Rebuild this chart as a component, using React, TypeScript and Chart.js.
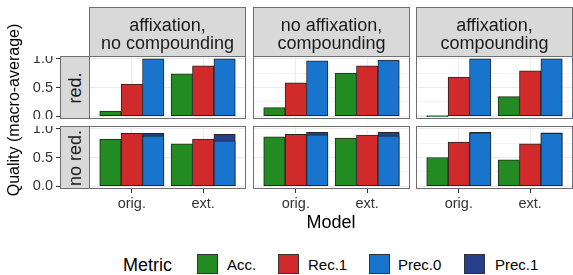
import React, { useEffect, useRef } from 'react';
import { Chart, registerables } from 'chart.js';

Chart.register(...registerables);

// ---------- data ----------
const FACETS = [
  ['affixation,', 'no compounding'],
  ['no affixation,', 'compounding'],
  ['affixation,', 'compounding'],
];
const ROW_LABELS = ['red.', 'no red.'];
const MODELS = ['orig.', 'ext.'];
const METRICS = ['Acc.', 'Rec.1', 'Prec.0', 'Prec.1'];
const Y_TICKS = [0, 0.25, 0.5, 0.75, 1];

// values indexed [row][facet][model]
const ACC = [
  [[0.09, 0.74], [0.15, 0.75], [0.0, 0.34]],
  [[0.82, 0.74], [0.86, 0.84], [0.5, 0.46]],
];
const REC1 = [
  [[0.56, 0.88], [0.58, 0.88], [0.68, 0.79]],
  [[0.92, 0.82], [0.905, 0.89], [0.77, 0.74]],
];
const PREC0 = [
  [[1.0, 1.0], [0.965, 0.98], [1.0, 1.0]],
  [[0.88, 0.79], [0.895, 0.877], [0.93, 0.92]],
];
const PREC1 = [
  [[null, null], [null, null], [null, null]],
  [[0.92, 0.905], [0.94, 0.94], [0.94, 0.93]],
];
const SERIES = [ACC, REC1, PREC0, PREC1];

// ---------- styles / layout ----------
const COLORS = ['#228B22', '#D02A2A', '#1874CD', '#27408B'];
const SLOT = [-1, 0, 1, 1];
const DODGE = 0.3;
const FONT = "'Liberation Sans', Arial, Helvetica, sans-serif";
const PANEL_LEFT = [89, 253, 416];
const PANEL_W = 157;
const PANEL_TOP = [56, 126];
const PANEL_H = 63;
const STRIP_TOP = 7;
const ROW_STRIP_LEFT = 60;
const Y_AXIS_W = 89;
const X_AXIS_H = 28;
const BORDER = '#6e6e6e';
const GRID = '#EBEBEB';
const TICK_TEXT = '#333333';

const isMajor = (v: number) => Math.abs(v * 2 - Math.round(v * 2)) < 1e-6;

const zeroPad = (s: any) => {
  s.paddingLeft = 0;
  s.paddingRight = 0;
  s.paddingTop = 0;
  s.paddingBottom = 0;
};

const panelBorder = {
  id: 'panelBorder',
  afterDraw(chart: any) {
    const { ctx, chartArea: a } = chart;
    ctx.save();
    ctx.strokeStyle = BORDER;
    ctx.lineWidth = 1;
    ctx.strokeRect(a.left + 0.5, a.top + 0.5, a.right - a.left - 1, a.bottom - a.top - 1);
    ctx.restore();
  },
};

function Panel({ row, col }: { row: number; col: number }) {
  const ref = useRef<HTMLCanvasElement | null>(null);
  const hasY = col === 0;
  const hasX = row === ROW_LABELS.length - 1;
  const left = hasY ? PANEL_LEFT[0] - Y_AXIS_W : PANEL_LEFT[col];
  const width = PANEL_W + (hasY ? Y_AXIS_W : 0);
  const top = PANEL_TOP[row];
  const height = PANEL_H + (hasX ? X_AXIS_H : 0);

  useEffect(() => {
    if (!ref.current) return;
    const datasets = METRICS.map((m, k) => ({
      label: m,
      data: MODELS.map((_, i) => ({ x: i + 1 + SLOT[k] * DODGE, y: SERIES[k][row][col][i] })),
      backgroundColor: COLORS[k],
      borderColor: '#262626',
      borderWidth: 1,
      borderSkipped: false,
      grouped: false,
      barPercentage: 1,
      categoryPercentage: 1,
      minBarLength: 1,
    }));
    const chart = new Chart(ref.current, {
      type: 'bar',
      data: { datasets } as any,
      options: {
        animation: false,
        responsive: false,
        maintainAspectRatio: false,
        layout: { padding: 0 },
        plugins: { legend: { display: false }, tooltip: { enabled: false } },
        scales: {
          x: {
            type: 'linear',
            offset: false,
            min: 0.4,
            max: 0.6 + MODELS.length,
            afterBuildTicks: (s: any) => {
              s.ticks = MODELS.map((_, i) => ({ value: i + 1 }));
            },
            afterFit: (s: any) => {
              s.height = hasX ? X_AXIS_H : 0;
              zeroPad(s);
            },
            ticks: {
              display: hasX,
              autoSkip: false,
              maxRotation: 0,
              padding: 2,
              color: TICK_TEXT,
              font: { family: FONT, size: 14.5 },
              callback: (v: any) => MODELS[Math.round(Number(v)) - 1] ?? '',
            },
            grid: {
              offset: false,
              color: GRID,
              lineWidth: 1,
              drawTicks: hasX,
              tickLength: 4,
              tickColor: '#333333',
              tickWidth: 1,
            },
            border: { display: false },
          },
          y: {
            type: 'linear',
            min: -0.05,
            max: 1.05,
            afterBuildTicks: (s: any) => {
              s.ticks = Y_TICKS.map((v) => ({ value: v }));
            },
            afterFit: (s: any) => {
              s.width = hasY ? Y_AXIS_W : 0;
              zeroPad(s);
            },
            ticks: {
              display: hasY,
              padding: 3,
              color: TICK_TEXT,
              font: { family: FONT, size: 14.5 },
              callback: (v: any) => (isMajor(Number(v)) ? Number(v).toFixed(1) : ''),
            },
            grid: {
              color: (c: any) => (c.tick && isMajor(c.tick.value) ? GRID : '#F4F4F4'),
              lineWidth: 1,
              drawTicks: hasY,
              tickLength: Y_AXIS_W - ROW_STRIP_LEFT + 4,
              tickColor: (c: any) => (c.tick && isMajor(c.tick.value) ? '#333333' : 'rgba(0,0,0,0)'),
              tickWidth: 1,
            },
            border: { display: false },
          },
        },
      } as any,
      plugins: [panelBorder],
    });
    return () => chart.destroy();
  }, [row, col]);

  return (
    <canvas
      ref={ref}
      width={width}
      height={height}
      style={{ position: 'absolute', left, top, width, height, display: 'block' }}
    />
  );
}

const stripStyle: React.CSSProperties = {
  position: 'absolute',
  background: '#D9D9D9',
  border: `1px solid ${BORDER}`,
  boxSizing: 'border-box',
  color: '#1A1A1A',
  fontFamily: FONT,
  fontSize: 18,
};

export default function App() {
  const legendKeys = [197, 278, 369, 464];
  const legendLabels = [227, 308, 398, 495];
  return (
    <div
      style={{
        position: 'absolute',
        left: 0,
        top: 0,
        width: 573,
        height: 275,
        overflow: 'hidden',
        background: '#FFFFFF',
        fontFamily: FONT,
      }}
    >
      {ROW_LABELS.map((_, r) =>
        FACETS.map((__, c) => <Panel key={`${r}-${c}`} row={r} col={c} />)
      )}

      {FACETS.map((lines, c) => (
        <div
          key={`fs-${c}`}
          style={{
            ...stripStyle,
            left: PANEL_LEFT[c],
            top: STRIP_TOP,
            width: PANEL_W,
            height: PANEL_TOP[0] - STRIP_TOP + 1,
          }}
        >
          <div
            style={{
              position: 'absolute',
              left: 0,
              right: 0,
              top: 8,
              textAlign: 'center',
              lineHeight: '18px',
              whiteSpace: 'nowrap',
            }}
          >
            {lines.map((l, i) => (
              <div key={i}>{l}</div>
            ))}
          </div>
        </div>
      ))}

      {ROW_LABELS.map((lab, r) => (
        <div
          key={`rs-${r}`}
          style={{
            ...stripStyle,
            left: ROW_STRIP_LEFT,
            top: PANEL_TOP[r],
            width: PANEL_LEFT[0] - ROW_STRIP_LEFT + 1,
            height: PANEL_H,
            display: 'flex',
            alignItems: 'center',
            justifyContent: 'center',
          }}
        >
          <span style={{ transform: 'rotate(-90deg)', whiteSpace: 'nowrap', lineHeight: '18px' }}>
            {lab}
          </span>
        </div>
      ))}

      <div
        style={{
          position: 'absolute',
          left: 14 - 100,
          top: 110 - 10,
          width: 200,
          height: 20,
          lineHeight: '20px',
          textAlign: 'center',
          transform: 'rotate(-90deg)',
          fontSize: 16,
          color: '#000',
          whiteSpace: 'nowrap',
        }}
      >
        Quality (macro-average)
      </div>

      <div
        style={{
          position: 'absolute',
          left: PANEL_LEFT[0],
          width: PANEL_LEFT[2] + PANEL_W - PANEL_LEFT[0],
          top: 211,
          height: 22,
          lineHeight: '22px',
          textAlign: 'center',
          fontSize: 18,
          color: '#000',
        }}
      >
        Model
      </div>

      <div
        style={{
          position: 'absolute',
          left: 123,
          top: 254,
          height: 22,
          lineHeight: '22px',
          fontSize: 18,
          color: '#000',
        }}
      >
        Metric
      </div>
      {METRICS.map((m, k) => (
        <React.Fragment key={m}>
          <div
            style={{
              position: 'absolute',
              left: legendKeys[k],
              top: 254,
              width: 21,
              height: 20,
              background: COLORS[k],
              border: '1px solid #333333',
              boxSizing: 'border-box',
            }}
          />
          <div
            style={{
              position: 'absolute',
              left: legendLabels[k],
              top: 254,
              height: 22,
              lineHeight: '22px',
              fontSize: 15,
              color: '#000',
              whiteSpace: 'nowrap',
            }}
          >
            {m}
          </div>
        </React.Fragment>
      ))}
    </div>
  );
}
